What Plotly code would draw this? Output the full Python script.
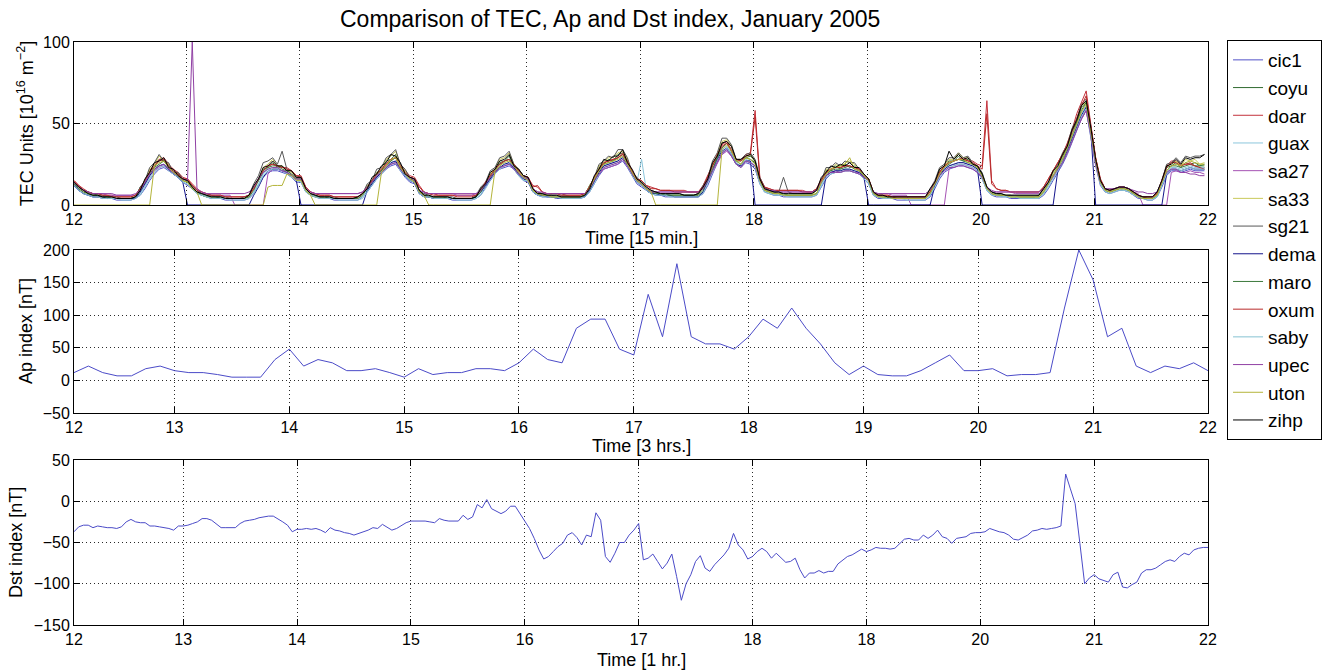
import plotly.graph_objects as go

# ---------------- TEC, 14 GPS stations, hourly values (12-21 Jan 2005) ----------------
cic1 = [12,9,7,6,5,5, 4,4,4,3,3,3, 3,4,6,10,15,19, 22,23,21,19,17,14,
        12,10,7,6,5,4, 4,4,3,3,3,3, 3,4,7,12,17,20, 21,21,20,19,17,14,
        14,8,6,5,4,4, 4,3,3,3,3,3, 3,5,8,12,16,19, 22,24,25,21,17,14,
        13,7,5,5,4,4, 4,4,3,3,3,3, 3,4,6,11,15,19, 22,23,24,22,18,15,
        14,8,6,5,5,5, 4,4,4,4,4,4, 5,8,13,18,22,23, 24,25,27,23,18,13,
        11,9,7,6,6,5, 5,5,5,5,5,5, 5,7,12,19,26,31, 34,30,25,23,26,25,
        22,13,8,7,6,6, 5,5,5,5,5,5, 5,6,11,16,19,20, 20,21,21,20,19,16,
        13,6,4,4,4,4, 3,3,3,3,3,3, 3,5,10,16,20,22, 23,24,24,23,22,20,
        16,9,6,5,5,5, 4,4,4,4,4,4, 4,6,10,15,20,25, 31,38,46,53,58,42,
        24,12,8,7,8,9, 9,8,6,4,4,3, 3,5,11,18,21,21, 20,21,22,21,21,21]

coyu = [14,11,9,7,6,6, 5,5,5,4,4,4, 4,5,11,14,21,23, 28,27,25,20,20,16,
        15,11,8,7,6,5, 5,5,4,4,4,4, 4,6,11,15,22,23, 26,23,24,21,21,17,
        17,10,7,6,5,5, 5,4,4,4,4,4, 5,7,12,14,20,21, 27,28,31,23,21,17,
        16,9,6,5,5,5, 5,5,4,4,4,4, 4,5,10,13,19,21, 26,27,30,24,22,18,
        17,10,7,6,6,6, 5,5,5,5,5,5, 6,12,16,23,25,28, 27,31,32,28,20,16,
        14,10,8,8,7,7, 6,6,6,6,6,6, 7,11,15,24,29,38, 39,36,27,27,29,30,
        27,16,10,8,8,7, 7,6,6,6,6,6, 6,9,14,21,21,24, 22,25,23,24,21,19,
        16,7,6,5,5,5, 4,4,4,4,4,4, 4,9,13,21,23,27, 27,30,27,28,25,24,
        19,11,8,7,6,6, 6,5,5,5,5,5, 6,10,13,20,23,30, 35,45,51,60,63,47,
        28,15,10,9,10,11, 11,10,7,5,5,4, 4,8,14,23,24,26, 23,26,25,26,24,25]

doar = [15,12,10,8,7,7, 6,6,6,5,5,5, 5,6,10,15,21,25, 28,29,25,22,20,17,
        16,13,10,8,7,6, 6,6,5,5,5,5, 5,6,10,16,21,24, 25,24,23,23,21,18,
        18,11,8,7,6,6, 6,5,5,5,5,5, 5,7,11,15,19,22, 25,28,29,24,21,18,
        17,12,8,7,7,6, 6,6,6,6,6,6, 6,6,9,14,18,22, 25,27,28,25,21,18,
        17,12,11,8,7,7, 7,7,6,6,6,6, 7,11,17,22,26,27, 28,29,32,27,21,16,
        15,12,11,10,9,9, 9,9,9,9,8,8, 8,12,18,25,31,37, 39,34,28,27,31,32,
        58,17,11,10,9,9, 9,9,9,9,9,8, 8,10,16,20,22,23, 23,24,24,23,22,19,
        16,8,6,6,6,5, 5,5,5,5,5,5, 5,8,14,20,24,26, 27,28,29,27,27,25,
        24,64,15,10,9,9, 8,8,8,8,8,8, 8,11,16,21,26,31, 38,46,56,63,70,49,
        29,16,10,9,10,11, 11,10,8,6,5,5, 5,7,16,24,27,27, 25,25,26,24,23,23]

guax = [12,9,7,6,6,5, 5,4,4,4,4,4, 4,4,7,12,17,21, 24,25,22,19,17,14,
        13,10,7,6,5,5, 4,4,4,4,4,4, 4,5,8,13,19,22, 23,23,21,20,18,15,
        15,8,6,5,5,4, 4,4,4,4,4,4, 4,5,9,13,17,20, 23,26,27,22,18,15,
        14,8,6,5,5,5, 4,4,4,4,4,4, 4,4,7,12,16,20, 23,25,26,23,19,16,
        15,9,7,6,6,5, 5,5,5,5,5,5, 5,9,15,20,24,25, 26,27,30,25,19,14,
        28,9,7,7,6,6, 6,6,6,6,6,6, 6,8,14,21,28,34, 36,32,26,24,28,27,
        24,14,8,7,7,6, 6,6,6,6,6,6, 6,7,13,18,20,21, 21,22,22,21,20,17,
        14,6,5,5,4,4, 4,4,4,4,4,4, 4,6,12,18,22,24, 25,26,26,25,24,22,
        17,9,7,6,6,5, 5,5,5,5,5,5, 5,7,12,17,22,27, 34,41,49,56,61,44,
        26,13,9,8,9,10, 9,9,7,5,4,4, 4,5,13,20,23,23, 22,23,24,23,23,23]

sa27 = [14,11,9,8,7,7, 7,6,6,6,6,6, 6,6,9,13,18,21, 23,24,22,19,18,16,
        15,12,9,7,7,6, 6,6,6,6,0,0, 0,0,0,0,0,19, 22,22,21,21,19,16,
        16,10,8,7,7,7, 7,7,7,7,7,7, 7,8,10,14,17,20, 22,25,26,22,19,17,
        16,9,7,7,7,7, 7,7,7,6,6,6, 6,7,9,13,16,20, 22,24,25,23,20,17,
        16,10,8,7,7,7, 7,7,7,7,7,7, 7,10,15,19,22,23, 24,25,28,24,19,15,
        13,10,8,8,8,8, 8,8,8,8,8,8, 8,10,14,20,26,31, 33,30,25,23,27,26,
        24,15,10,9,8,8, 8,8,8,8,8,8, 8,9,14,18,20,21, 20,21,21,20,20,17,
        15,8,7,7,7,6, 6,6,6,0,0,0, 0,0,0,0,0,22, 24,25,25,24,23,21,
        17,11,8,8,8,8, 8,7,7,7,7,7, 7,9,13,17,21,26, 32,39,47,53,58,43,
        25,14,10,9,10,11, 11,10,8,7,0,0, 0,0,0,0,20,21, 20,20,21,20,20,19]

sa33 = [13,10,8,7,6,5, 5,5,4,4,4,4, 4,5,10,14,22,25, 30,27,25,20,19,15,
        14,11,8,6,5,5, 5,4,4,4,4,4, 4,5,11,15,23,25, 28,24,24,21,20,16,
        16,9,6,5,5,5, 4,4,4,4,4,4, 4,6,12,14,20,22, 28,30,33,24,21,16,
        15,8,6,5,5,5, 5,4,4,4,4,4, 4,5,10,13,19,22, 28,29,32,25,22,17,
        16,9,7,6,6,5, 5,5,5,5,5,5, 6,12,16,24,26,29, 29,32,33,28,19,15,
        13,10,8,7,7,6, 6,6,6,6,6,6, 6,11,15,25,31,39, 40,36,27,27,29,31,
        26,15,9,8,7,7, 6,6,6,6,6,6, 6,9,14,22,22,25, 23,26,27,25,21,18,
        15,7,5,5,5,4, 4,4,4,4,4,4, 4,9,13,22,24,28, 28,32,29,29,25,23,
        18,10,7,6,6,6, 5,5,5,5,5,5, 5,9,13,20,23,31, 36,46,52,61,63,46,
        27,14,9,8,9,10, 10,9,7,5,4,4, 4,7,14,24,25,27, 24,28,27,28,25,26]

sg21 = [14,11,9,8,7,6, 6,5,5,5,4,4, 4,5,11,15,23,26, 31,27,26,20,20,16,
        15,12,9,7,6,6, 5,5,5,4,4,4, 5,6,13,18,26,27, 29,25,33,22,21,17,
        17,10,7,6,5,5, 5,5,4,4,4,4, 5,7,13,15,22,23, 29,31,34,25,22,17,
        16,9,7,6,5,5, 5,5,5,4,4,4, 4,6,11,14,21,23, 29,30,33,25,22,18,
        17,10,8,7,6,6, 6,6,6,5,5,5, 6,12,17,25,27,30, 29,34,34,29,20,17,
        14,11,9,8,7,7, 7,7,7,6,6,6, 7,12,17,27,32,41, 41,37,28,28,31,32,
        28,17,11,9,8,8, 17,8,7,7,7,7, 7,10,15,23,23,26, 24,27,26,26,22,19,
        16,8,6,6,5,5, 5,5,5,5,5,5, 5,10,15,23,25,29, 29,32,29,30,26,24,
        20,11,8,7,7,6, 6,6,6,6,6,6, 6,11,14,21,25,32, 37,47,53,62,65,48,
        28,15,10,9,10,11, 11,10,8,6,5,5, 5,8,15,25,26,29, 26,30,29,30,30,31]

dema = [12,9,7,6,5,5, 5,4,4,4,4,4, 4,4,8,13,18,22, 24,25,22,19,17,14,
        0,0,0,0,0,0, 0,0,0,0,0,0, 0,0,6,11,17,21, 22,22,21,20,18,15,
        0,0,0,0,0,0, 0,0,0,0,0,0, 0,0,9,13,17,20, 23,26,27,22,18,15,
        14,7,5,5,4,4, 4,4,4,4,4,4, 4,5,8,12,16,20, 23,25,26,23,19,16,
        15,8,6,6,5,5, 5,5,5,5,5,5, 5,9,15,20,24,25, 26,27,29,25,19,14,
        12,9,7,7,6,6, 6,5,5,5,5,5, 5,8,14,21,28,33, 35,31,25,24,27,27,
        0,0,0,0,0,0, 0,0,0,0,0,0, 0,0,0,18,20,21, 21,22,22,21,20,17,
        0,0,0,0,0,0, 0,0,0,0,0,0, 0,0,12,18,22,24, 25,26,26,25,24,22,
        0,0,0,0,0,0, 0,0,0,0,0,0, 0,0,0,0,21,26, 33,40,48,55,60,44,
        0,0,0,0,0,0, 0,0,0,0,0,0, 0,0,0,19,22,22, 21,22,23,22,22,22]

maro = [13,10,8,7,6,6, 5,5,4,4,4,4, 4,5,9,14,19,23, 25,27,23,20,18,15,
        14,10,8,6,5,5, 5,4,4,4,4,4, 4,5,9,15,20,23, 24,24,22,21,19,16,
        16,9,6,5,5,5, 4,4,4,4,4,4, 4,6,10,14,18,21, 24,27,29,23,19,16,
        15,8,6,5,5,5, 5,4,4,4,4,4, 4,5,8,13,17,21, 24,27,28,24,20,17,
        16,9,7,6,6,5, 5,5,5,5,5,5, 6,10,16,21,25,26, 27,29,31,26,20,15,
        13,10,8,7,7,6, 6,6,6,6,6,6, 6,9,15,22,29,35, 38,33,27,25,29,28,
        26,15,9,8,7,7, 6,6,6,6,6,6, 6,7,14,19,21,22, 22,23,24,22,21,18,
        15,7,5,5,5,4, 4,4,4,4,4,4, 4,7,13,19,23,25, 27,28,27,26,25,23,
        18,10,7,6,6,6, 5,5,5,5,5,5, 5,8,13,18,23,28, 35,43,51,58,63,45,
        27,14,9,8,9,10, 10,9,7,5,4,4, 4,6,14,21,24,24, 23,24,25,24,24,24]

oxum = [15,12,9,8,7,7, 6,6,5,5,5,5, 5,6,10,15,20,24, 27,28,24,21,19,16,
        16,12,9,8,7,6, 6,6,5,5,5,5, 5,6,10,16,21,24, 25,24,23,22,21,18,
        17,11,8,7,6,6, 6,5,5,5,5,5, 5,7,11,15,19,22, 25,28,29,24,20,17,
        16,11,8,7,6,6, 6,6,6,5,5,5, 5,6,9,14,18,22, 25,27,28,25,21,18,
        17,11,12,8,7,7, 7,6,6,6,6,6, 7,11,17,22,26,27, 28,29,31,27,21,16,
        15,12,10,10,9,9, 9,8,8,8,8,8, 8,11,17,24,31,36, 38,33,28,27,30,31,
        54,16,11,10,9,9, 9,9,9,9,8,8, 8,10,15,20,22,23, 23,24,24,23,22,19,
        16,8,6,6,6,5, 5,5,5,5,5,5, 5,8,14,20,24,26, 27,28,28,27,26,24,
        22,56,13,10,9,9, 8,8,8,8,8,8, 8,11,16,21,26,31, 37,45,54,61,67,48,
        29,16,10,9,10,11, 11,10,8,6,5,5, 5,7,15,23,26,26, 24,25,25,24,23,22]

saby = [12,9,7,6,5,5, 4,4,4,4,3,3, 3,4,6,11,16,20, 23,24,21,19,17,14,
        13,10,7,6,5,4, 4,4,4,3,3,3, 3,4,7,12,18,21, 22,22,21,19,17,15,
        14,8,6,5,4,4, 4,4,3,3,3,3, 3,4,8,12,16,19, 22,25,26,21,18,15,
        14,7,5,5,4,4, 4,4,4,3,3,3, 3,4,6,10,15,19, 22,24,25,22,18,15,
        15,8,6,5,5,5, 5,4,4,4,4,4, 5,8,13,19,23,24, 25,26,28,24,18,14,
        12,9,7,6,6,6, 5,5,5,5,5,5, 5,7,13,20,27,32, 35,31,25,23,27,26,
        23,13,8,7,6,6, 6,5,5,5,5,5, 5,6,12,17,19,20, 20,21,21,20,19,16,
        13,6,5,4,4,4, 4,4,3,3,3,3, 3,6,11,17,21,23, 24,25,25,24,23,21,
        16,9,6,6,5,5, 5,5,4,4,4,4, 4,7,11,16,21,26, 32,39,47,54,59,43,
        25,13,8,7,8,9, 9,8,6,5,4,3, 3,5,12,19,22,22, 21,22,23,22,22,22]

upec = [14,11,9,8,7,7, 7,7,7,6,6,6, 6,7,9,14,19,22, 24,25,22,20,18,16,
        15,100,10,8,7,7, 7,7,7,7,7,7, 7,8,11,16,20,22, 23,23,21,20,18,16,
        16,10,8,7,7,7, 7,7,7,7,7,7, 7,8,11,14,18,20, 23,25,26,22,19,17,
        15,9,8,7,7,7, 7,7,7,7,7,7, 7,7,9,13,17,20, 23,24,25,22,19,17,
        16,10,8,8,7,7, 7,7,7,7,7,7, 7,10,15,19,23,24, 25,26,28,24,19,15,
        13,10,8,8,8,8, 8,8,8,8,8,8, 8,10,15,21,27,32, 34,30,25,23,27,26,
        24,15,10,9,9,8, 8,8,8,8,8,8, 8,9,14,18,20,20, 20,21,21,20,19,17,
        15,8,7,7,7,7, 7,7,7,7,7,7, 7,9,13,18,21,23, 23,24,24,23,22,20,
        17,11,9,8,8,8, 8,8,8,8,8,8, 8,10,14,18,22,26, 32,39,47,53,58,43,
        25,14,10,10,10,11, 11,10,9,8,8,7, 7,8,14,20,22,22, 20,20,19,19,18,18]

uton = [0,0,0,0,0,0, 0,0,0,0,0,0, 0,0,0,0,0,24, 26,27,23,20,18,15,
        14,10,8,0,0,0, 0,0,0,0,0,0, 0,0,0,0,0,11, 12,12,12,19,18,15,
        15,9,6,0,0,0, 0,0,0,0,0,0, 0,0,0,0,0,20, 24,28,29,23,19,16,
        14,8,6,0,0,0, 0,0,0,0,0,0, 0,0,0,0,0,21, 24,26,27,24,20,17,
        15,9,7,6,6,5, 5,5,5,5,5,5, 6,10,16,21,25,26, 27,28,30,25,20,15,
        13,10,8,0,0,0, 0,0,0,0,0,0, 0,0,0,0,0,34, 37,33,27,25,29,28,
        25,15,9,8,7,7, 6,6,6,6,6,6, 6,7,14,19,22,23, 24,25,29,22,21,18,
        15,7,5,5,5,4, 4,4,4,4,4,4, 4,7,13,19,23,26, 27,28,28,26,25,23,
        18,10,7,6,6,6, 5,5,5,5,5,5, 5,8,13,18,23,28, 35,42,50,57,62,45,
        27,14,9,8,9,10, 10,9,7,5,4,4, 4,6,14,21,24,25, 24,26,27,26,25,25]

zihp = [14,11,9,7,6,6, 5,5,5,4,4,4, 4,5,9,16,20,26, 27,29,23,22,18,16,
        15,11,8,7,6,5, 5,5,4,4,4,4, 4,6,12,16,23,24, 27,24,24,21,21,17,
        17,10,7,6,5,5, 5,4,4,4,4,4, 5,7,10,17,19,24, 26,31,30,26,19,17,
        16,9,6,6,5,5, 5,5,4,4,4,4, 4,5,10,13,20,22, 27,28,31,24,22,18,
        17,10,7,7,6,6, 6,5,5,5,5,5, 6,10,18,22,28,27, 30,30,34,26,22,16,
        14,11,9,8,7,7, 7,7,7,6,6,6, 7,11,16,26,30,38, 39,36,28,28,30,31,
        27,16,10,9,8,8, 7,7,7,7,7,7, 7,9,17,20,24,23, 25,24,26,23,23,19,
        16,8,6,6,5,5, 5,5,5,5,5,5, 5,10,14,22,24,33, 28,31,28,29,25,24,
        19,11,8,7,7,6, 6,6,6,6,6,6, 6,10,14,21,24,31, 36,46,52,61,64,47,
        28,15,10,9,10,11, 11,10,8,6,5,5, 5,8,15,24,25,28, 25,29,28,29,29,31]

station_names = ["cic1", "coyu", "doar", "guax", "sa27", "sa33", "sg21",
                 "dema", "maro", "oxum", "saby", "upec", "uton", "zihp"]
station_values = [cic1, coyu, doar, guax, sa27, sa33, sg21,
                  dema, maro, oxum, saby, upec, uton, zihp]
station_colors = ["#5252c8", "#2f6a2f", "#c4323c", "#8cc6dc", "#a552b4", "#c9c95a", "#585858",
                  "#14148c", "#3c7a3c", "#b82a2a", "#86c2d2", "#9040a4", "#b4b43a", "#000000"]

# ---------------- Ap index, 3-hourly ----------------
ap = [12, 22, 12, 7, 7, 18, 22, 15, 12, 12,
      9, 5, 5, 5, 32, 48, 22, 32, 27, 15,
      15, 18, 12, 5, 18, 9, 12, 12, 18, 18,
      15, 27, 48, 32, 27, 80, 94, 94, 48, 39,
      132, 67, 179, 67, 56, 56, 48, 67, 94, 80,
      111, 80, 56, 27, 9, 22, 9, 7, 7, 15,
      27, 39, 15, 15, 18, 7, 9, 9, 12, 111,
      200, 154, 67, 80, 22, 12, 22, 18, 27, 15]

# ---------------- Dst index, hourly ----------------
dst = [-37, -31, -29, -29, -32, -30, -31, -32, -32, -33,
       -31, -25, -22, -25, -26, -26, -30, -30, -31, -32,
       -33, -35, -30, -30, -29, -27, -25, -21, -21, -23,
       -27, -32, -32, -32, -32, -27, -24, -23, -22, -20,
       -19, -18, -18, -21, -25, -29, -37, -34, -34, -33,
       -34, -33, -35, -38, -32, -35, -36, -38, -39, -41,
       -39, -37, -35, -32, -33, -28, -32, -35, -33, -29,
       -26, -24, -24, -24, -24, -25, -26, -21, -23, -24,
       -24, -24, -17, -22, -19, -4, -8, 2, -9, -12,
       -15, -12, -6, -6, -15, -23, -33, -45, -59, -70,
       -67, -61, -55, -51, -41, -38, -44, -53, -41, -43,
       -14, -23, -67, -74, -63, -50, -50, -41, -35, -27,
       -71, -69, -64, -73, -82, -75, -64, -91, -120, -100,
       -89, -73, -66, -81, -85, -77, -71, -65, -57, -39,
       -53, -59, -70, -67, -61, -57, -61, -69, -63, -69,
       -74, -73, -69, -83, -93, -87, -87, -84, -87, -85,
       -85, -76, -71, -67, -65, -61, -58, -61, -59, -56,
       -57, -57, -58, -57, -52, -46, -45, -47, -47, -41,
       -45, -41, -35, -43, -45, -51, -45, -44, -43, -39,
       -38, -38, -37, -33, -35, -37, -38, -41, -46, -47,
       -44, -41, -36, -35, -33, -34, -33, -32, -30, 33,
       15, -3, -51, -100, -93, -89, -94, -96, -98, -89,
       -86, -104, -105, -101, -98, -87, -83, -83, -81, -77,
       -73, -71, -73, -67, -63, -65, -59, -57, -56, -56]

day_labels = ["12", "13", "14", "15", "16", "17", "18", "19", "20", "21", "22"]
dst_day_labels = ["12", "13", "14", "15", "16", "17", "18", "18", "20", "21", "22"]

bad = [n for n, v in zip(station_names, station_values) if len(v) != 240]
assert not bad and len(ap) == 80 and len(dst) == 240, bad

FONT = "Arial, Liberation Sans, Helvetica, sans-serif"
INDEX_COLOR = "#4b4bc8"

fig = go.Figure()

# TEC: hourly values placed on the 15-minute sample axis (sample = 4*hour + 1)
for name, vals, col in zip(station_names, station_values, station_colors):
    fig.add_trace(go.Scatter(
        x=[4 * h + 1 for h in range(len(vals))], y=vals, mode="lines",
        name=name, line=dict(color=col, width=1),
        xaxis="x", yaxis="y"))

fig.add_trace(go.Scatter(x=list(range(1, len(ap) + 1)), y=ap, mode="lines",
                         line=dict(color=INDEX_COLOR, width=1), showlegend=False,
                         xaxis="x2", yaxis="y2"))
fig.add_trace(go.Scatter(x=list(range(1, len(dst) + 1)), y=dst, mode="lines",
                         line=dict(color=INDEX_COLOR, width=1), showlegend=False,
                         xaxis="x3", yaxis="y3"))


def axis_style(**kw):
    base = dict(showline=True, linecolor="black", linewidth=1, mirror="ticks",
                ticks="inside", ticklen=6, tickcolor="black",
                showgrid=True, gridcolor="#2a2a2a", griddash="1px,3px", gridwidth=1,
                zeroline=False, tickfont=dict(family=FONT, size=16, color="black"))
    base.update(kw)
    return base


def tick_positions(n_per_day, n_total):
    return [1] + [n_per_day * k for k in range(1, 10)] + [n_total]


fig.update_layout(
    width=1333, height=672,
    margin=dict(l=74, r=124, t=42, b=47),
    paper_bgcolor="white", plot_bgcolor="white",
    font=dict(family=FONT, size=16, color="black"),
    xaxis=axis_style(domain=[0, 1], anchor="y", range=[1, 960],
                     tickvals=tick_positions(96, 960), ticktext=day_labels),
    yaxis=axis_style(domain=[0.7204, 1], anchor="x", range=[0, 100],
                     tickvals=[0, 50, 100]),
    xaxis2=axis_style(domain=[0, 1], anchor="y2", range=[1, 80],
                      tickvals=tick_positions(8, 80), ticktext=day_labels),
    yaxis2=axis_style(domain=[0.3636, 0.6432], anchor="x2", range=[-50, 200],
                      tickvals=[-50, 0, 50, 100, 150, 200]),
    xaxis3=axis_style(domain=[0, 1], anchor="y3", range=[1, 240],
                      tickvals=tick_positions(24, 240), ticktext=dst_day_labels),
    yaxis3=axis_style(domain=[0, 0.283], anchor="x3", range=[-150, 50],
                      tickvals=[-150, -100, -50, 0, 50]),
    legend=dict(x=1.0159, y=1.0034, xanchor="left", yanchor="top",
                bgcolor="white", bordercolor="black", borderwidth=1,
                font=dict(family=FONT, size=19, color="black"),
                maxheight=600),
    showlegend=True,
)

label_font = dict(family=FONT, size=18, color="black")
annotations = [
    dict(text="Comparison of TEC, Ap and Dst index, January 2005", x=0.473, y=1.0395,
         xref="paper", yref="paper", showarrow=False, xanchor="center", yanchor="middle",
         font=dict(family=FONT, size=23, color="black")),
    dict(text="Time [15 min.]", x=0.5, y=0.6638, xref="paper", yref="paper",
         showarrow=False, xanchor="center", yanchor="middle", font=label_font),
    dict(text="Time [3 hrs.]", x=0.5, y=0.307, xref="paper", yref="paper",
         showarrow=False, xanchor="center", yanchor="middle", font=label_font),
    dict(text="Time [1 hr.]", x=0.5, y=-0.060, xref="paper", yref="paper",
         showarrow=False, xanchor="center", yanchor="middle", font=label_font),
    dict(text="TEC Units [10<sup>16</sup> m<sup>\u22122</sup>]", x=-0.0427, y=0.860,
         xref="paper", yref="paper", showarrow=False, textangle=-90,
         xanchor="center", yanchor="middle", font=label_font),
    dict(text="Ap index [nT]", x=-0.0427, y=0.5034, xref="paper", yref="paper",
         showarrow=False, textangle=-90, xanchor="center", yanchor="middle", font=label_font),
    dict(text="Dst index [nT]", x=-0.0517, y=0.1415, xref="paper", yref="paper",
         showarrow=False, textangle=-90, xanchor="center", yanchor="middle", font=label_font),
]
fig.update_layout(annotations=annotations)

fig.write_html("out.html")
